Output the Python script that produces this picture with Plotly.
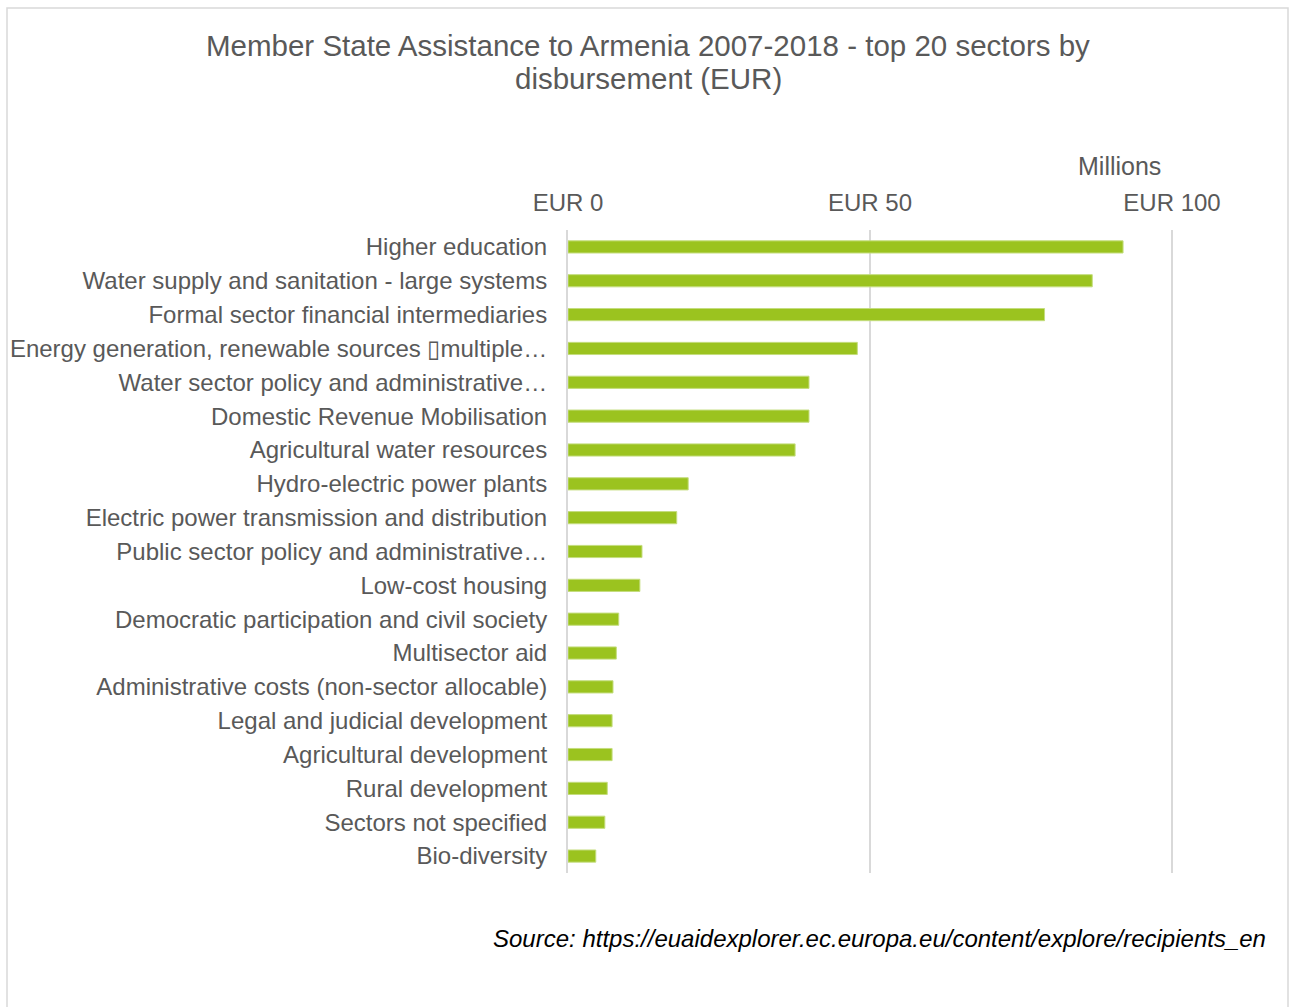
import plotly.graph_objects as go

# Sectors ordered from largest to smallest disbursement (EUR millions)
sectors = [
    "Higher education",
    "Water supply and sanitation - large systems",
    "Formal sector financial intermediaries",
    "Energy generation, renewable sources \u25afmultiple\u2026",
    "Water sector policy and administrative\u2026",
    "Domestic Revenue Mobilisation",
    "Agricultural water resources",
    "Hydro-electric power plants",
    "Electric power transmission and distribution",
    "Public sector policy and administrative\u2026",
    "Low-cost housing",
    "Democratic participation and civil society",
    "Multisector aid",
    "Administrative costs (non-sector allocable)",
    "Legal and judicial development",
    "Agricultural development",
    "Rural development",
    "Sectors not specified",
    "Bio-diversity",
]
disbursed_m = [
    91.9, 86.8, 78.9, 47.9, 39.9, 39.9, 37.6, 19.9, 18.0, 12.25,
    11.9, 8.4, 8.0, 7.45, 7.3, 7.3, 6.5, 6.1, 4.6,
]
tick_vals = [0, 50, 100]
tick_text = ["EUR 0", "EUR 50", "EUR 100"]
title_lines = [
    "Member State Assistance to Armenia 2007-2018 - top 20 sectors by",
    "disbursement (EUR)",
]

FONT = "Liberation Sans, Arial, sans-serif"
GREY = "#595959"

L, R, T, B = 568, 115, 230, 134
PLOT_W = 1290 - L - R
PLOT_H = 1007 - T - B
X_MAX = 100.5


def px_x(px):
    return (px - L) / PLOT_W


def px_y(py):
    return (1007 - B - py) / PLOT_H


fig = go.Figure(
    go.Bar(
        x=disbursed_m,
        y=sectors,
        orientation="h",
        marker=dict(color="#9BC31F", line=dict(color="#C4DD7E", width=1)),
        width=0.36,
    )
)

fig.update_layout(
    width=1290,
    height=1007,
    margin=dict(l=L, r=R, t=T, b=B, autoexpand=False),
    paper_bgcolor="white",
    plot_bgcolor="white",
    showlegend=False,
    font=dict(family=FONT, color=GREY),
)

fig.update_xaxes(
    side="top",
    range=[0, X_MAX],
    tickvals=tick_vals,
    ticktext=tick_text,
    tickfont=dict(family=FONT, size=24, color=GREY),
    ticks="",
    ticklabelstandoff=13,
    showgrid=True,
    gridcolor="#D9D9D9",
    gridwidth=1.5,
    zeroline=False,
    showline=False,
    automargin=False,
    fixedrange=True,
)
fig.update_yaxes(
    autorange="reversed",
    tickfont=dict(family=FONT, size=24, color=GREY),
    ticks="",
    ticklabelstandoff=14,
    showgrid=False,
    showline=True,
    linecolor="#D9D9D9",
    linewidth=2,
    zeroline=False,
    automargin=False,
)

# Outer chart frame
fig.add_shape(
    type="rect",
    xref="paper", yref="paper",
    x0=px_x(7), x1=px_x(1288),
    y0=px_y(1012), y1=px_y(8),
    line=dict(color="#D9D9D9", width=1.5),
    fillcolor="rgba(0,0,0,0)",
    layer="below",
)

# Two-line chart title
for line_text, line_y in zip(title_lines, [45, 79]):
    fig.add_annotation(
        text=line_text,
        xref="paper", yref="paper",
        x=px_x(648), y=px_y(line_y),
        xanchor="center", yanchor="middle",
        showarrow=False,
        font=dict(family=FONT, size=29.5, color=GREY),
    )

fig.add_annotation(
    text="Millions",
    xref="paper", yref="paper",
    x=px_x(1119), y=px_y(166),
    xanchor="center", yanchor="middle",
    showarrow=False,
    font=dict(family=FONT, size=25, color=GREY),
)

fig.add_annotation(
    text="<i>Source: https://euaidexplorer.ec.europa.eu/content/explore/recipients_en</i>",
    xref="paper", yref="paper",
    x=px_x(1268), y=px_y(938),
    xanchor="right", yanchor="middle",
    showarrow=False,
    font=dict(family=FONT, size=24, color="#000000"),
)

fig.write_html("out.html")
